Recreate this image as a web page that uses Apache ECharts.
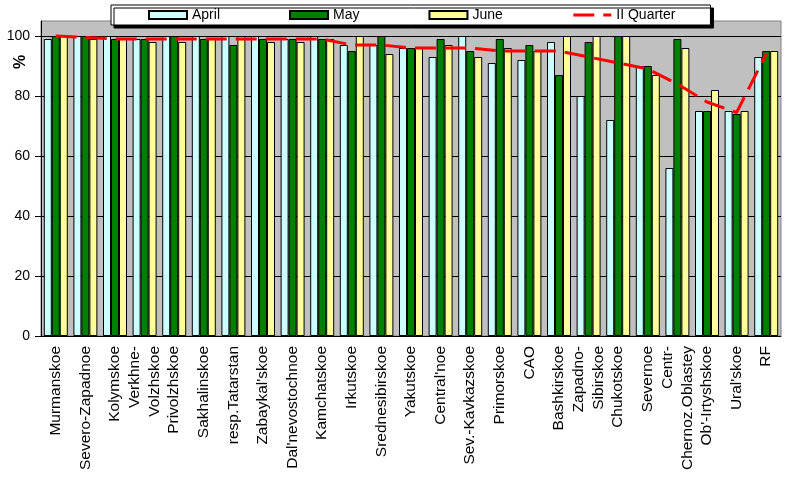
<!DOCTYPE html>
<html>
<head>
<meta charset="utf-8">
<script src="https://cdn.jsdelivr.net/npm/echarts@6/dist/echarts.min.js"></script>
<style>html,body{margin:0;padding:0;background:#fff;}#c{width:790px;height:478px;}</style>
</head>
<body>
<div id="c"></div>
<script>
const categories = ['Murmanskoe','Severo-Zapadnoe','Kolymskoe','Verkhne-\nVolzhskoe','Privolzhskoe','Sakhalinskoe','resp.Tatarstan',"Zabaykal'skoe","Dal'nevostochnoe",'Kamchatskoe','Irkutskoe','Srednesibirskoe','Yakutskoe',"Central'noe",'Sev.-Kavkazskoe','Primorskoe','CAO','Bashkirskoe','Zapadno-\nSibirskoe','Chukotskoe','Severnoe','Centr-\nChernoz.Oblastey',"Ob'-Irtyshskoe","Ural'skoe",'RF'];
const april   = [99,100,100,99,100,100,100,100,99,100,97,97,96,93,100,91,92,98,80,72,90,56,75,75,93];
const may     = [100,100,99,99,100,99,97,99,99,99,95,100,96,99,95,99,97,87,98,100,90,99,75,74,95];
const june    = [100,99,99,98,98,99,100,98,98,99,100,94,96,97,93,96,95,100,100,100,87,96,82,75,95];
const quarter = [100,99.5,99,99,99,99,99,99,99,99,97,97,96,96,96,95,95,95,93,91,89,84,78,74.5,94];
const yTicks  = [0,20,40,60,80,100];

const chart = echarts.init(document.getElementById('c'), null, {renderer:'canvas'});
const font = 'Liberation Sans, Arial, sans-serif';
function bar(name, data, color){
  return {name:name, type:'bar', data:data, barGap:'0%', barCategoryGap:'19%',
    itemStyle:{color:color, borderColor:'#000', borderWidth:1}};
}
chart.setOption({
  animation:false,
  backgroundColor:'#fff',
  textStyle:{fontFamily:font},
  legend:{
    left:111, top:5, orient:'horizontal',
    backgroundColor:'#fff', borderColor:'#000', borderWidth:1,
    shadowColor:'#000', shadowOffsetX:3, shadowOffsetY:3, shadowBlur:0,
    padding:[3,35,3,37], itemWidth:38, itemHeight:8, itemGap:69,
    textStyle:{fontSize:14, color:'#000', fontFamily:font},
    lineStyle:{width:3},
    data:[{name:'April',icon:'rect'},{name:'May',icon:'rect'},{name:'June',icon:'rect'},{name:'II Quarter'}]
  },
  grid:{left:41, right:9, top:21, bottom:142, show:true, backgroundColor:'#C0C0C0', borderColor:'#808080', borderWidth:1},
  xAxis:{
    type:'category', data:categories,
    axisLine:{lineStyle:{color:'#000', width:1}},
    axisTick:{length:6, lineStyle:{color:'#000'}},
    axisLabel:{rotate:90, fontSize:15.5, color:'#000', margin:10, lineHeight:20, interval:0, fontFamily:font}
  },
  yAxis:{
    type:'value', min:0, max:105, interval:20,
    axisLine:{show:true, lineStyle:{color:'#000'}},
    axisTick:{show:true, length:6, lineStyle:{color:'#000'}, customValues:yTicks},
    axisLabel:{fontSize:14, color:'#000', margin:11, customValues:yTicks, fontFamily:font},
    splitLine:{show:true, lineStyle:{color:'#000', width:1}}
  },
  graphic:[{type:'text', x:21, y:62, rotation:Math.PI/2,
    style:{text:'%', fontSize:16, fontWeight:'bold', fill:'#000', fontFamily:font, align:'center', verticalAlign:'middle'}}],
  series:[
    bar('April', april, '#CCFFFF'),
    bar('May', may, '#008000'),
    bar('June', june, '#FFFF99'),
    {name:'II Quarter', type:'line', data:quarter, symbol:'none', showSymbol:false, z:5,
     lineStyle:{color:'#FF0000', width:3, type:[21,9]}, itemStyle:{color:'rgba(0,0,0,0)'}}
  ]
});
</script>
</body>
</html>
